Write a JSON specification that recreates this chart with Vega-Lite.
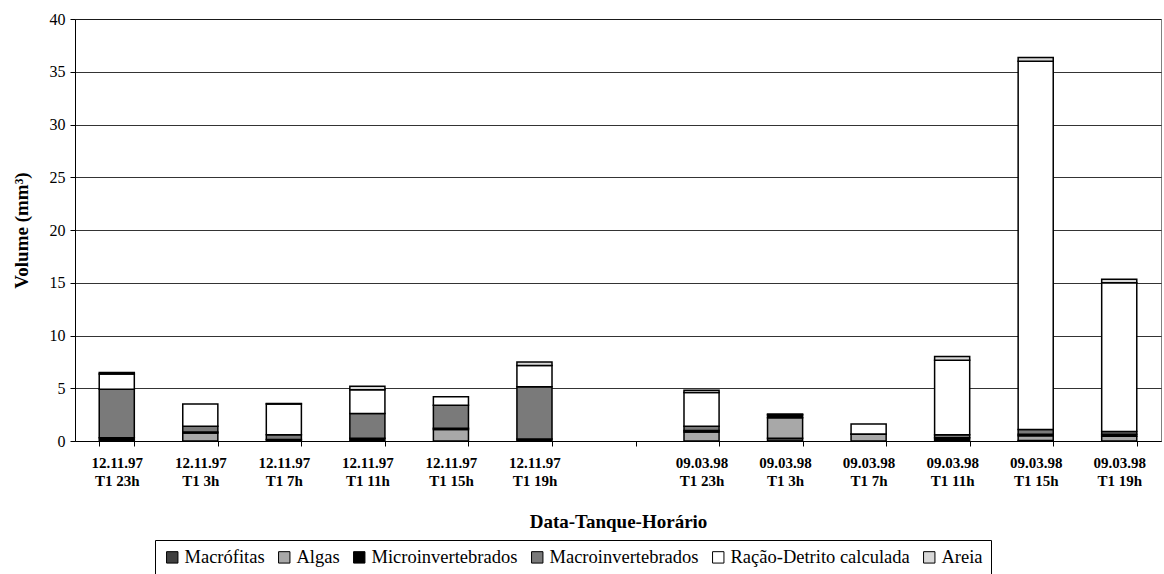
{
  "$schema": "https://vega.github.io/schema/vega-lite/v6.json",
  "width": 1086,
  "height": 422,
  "autosize": {"type": "none"},
  "padding": {"left": 75, "top": 19, "right": 3, "bottom": 133},
  "background": "white",
  "config": {
    "font": "Liberation Serif",
    "view": {"stroke": "#808080", "strokeWidth": 1}
  },
  "data": {
    "values": [
      {"c": "12.11.97|T1 23h", "Macrófitas": 0, "Algas": 0, "Microinvertebrados": 0.3, "Macroinvertebrados": 4.6, "Ração-Detrito calculada": 1.45, "Areia": 0.15},
      {"c": "12.11.97|T1 3h", "Macrófitas": 0, "Algas": 0.75, "Microinvertebrados": 0.1, "Macroinvertebrados": 0.55, "Ração-Detrito calculada": 2.1, "Areia": 0},
      {"c": "12.11.97|T1 7h", "Macrófitas": 0, "Algas": 0, "Microinvertebrados": 0.15, "Macroinvertebrados": 0.45, "Ração-Detrito calculada": 2.9, "Areia": 0.05},
      {"c": "12.11.97|T1 11h", "Macrófitas": 0, "Algas": 0, "Microinvertebrados": 0.25, "Macroinvertebrados": 2.35, "Ração-Detrito calculada": 2.25, "Areia": 0.35},
      {"c": "12.11.97|T1 15h", "Macrófitas": 0, "Algas": 1.1, "Microinvertebrados": 0.1, "Macroinvertebrados": 2.2, "Ração-Detrito calculada": 0.8, "Areia": 0},
      {"c": "12.11.97|T1 19h", "Macrófitas": 0, "Algas": 0, "Microinvertebrados": 0.2, "Macroinvertebrados": 4.95, "Ração-Detrito calculada": 2.0, "Areia": 0.35},
      {"c": "09.03.98|T1 23h", "Macrófitas": 0, "Algas": 0.85, "Microinvertebrados": 0.15, "Macroinvertebrados": 0.4, "Ração-Detrito calculada": 3.2, "Areia": 0.2},
      {"c": "09.03.98|T1 3h", "Macrófitas": 0.25, "Algas": 1.95, "Microinvertebrados": 0.3, "Macroinvertebrados": 0.05, "Ração-Detrito calculada": 0, "Areia": 0},
      {"c": "09.03.98|T1 7h", "Macrófitas": 0, "Algas": 0.65, "Microinvertebrados": 0.02, "Macroinvertebrados": 0, "Ração-Detrito calculada": 0.93, "Areia": 0},
      {"c": "09.03.98|T1 11h", "Macrófitas": 0, "Algas": 0, "Microinvertebrados": 0.3, "Macroinvertebrados": 0.3, "Ração-Detrito calculada": 7.05, "Areia": 0.35},
      {"c": "09.03.98|T1 15h", "Macrófitas": 0.05, "Algas": 0.45, "Microinvertebrados": 0.15, "Macroinvertebrados": 0.45, "Ração-Detrito calculada": 34.9, "Areia": 0.35},
      {"c": "09.03.98|T1 19h", "Macrófitas": 0, "Algas": 0.45, "Microinvertebrados": 0.2, "Macroinvertebrados": 0.25, "Ração-Detrito calculada": 14.1, "Areia": 0.33}
    ]
  },
  "transform": [
    {"fold": ["Macrófitas", "Algas", "Microinvertebrados", "Macroinvertebrados", "Ração-Detrito calculada", "Areia"], "as": ["tipo", "v"]},
    {"filter": "datum.v > 0"},
    {"calculate": "indexof(['Macrófitas','Algas','Microinvertebrados','Macroinvertebrados','Ração-Detrito calculada','Areia'], datum.tipo)", "as": "ord"}
  ],
  "mark": {"type": "bar", "stroke": "black", "strokeWidth": 1.5},
  "encoding": {
    "x": {
      "field": "c",
      "type": "nominal",
      "scale": {
        "domain": ["12.11.97|T1 23h", "12.11.97|T1 3h", "12.11.97|T1 7h", "12.11.97|T1 11h", "12.11.97|T1 15h", "12.11.97|T1 19h", " ", "09.03.98|T1 23h", "09.03.98|T1 3h", "09.03.98|T1 7h", "09.03.98|T1 11h", "09.03.98|T1 15h", "09.03.98|T1 19h"],
        "paddingInner": 0.58,
        "paddingOuter": 0.29
      },
      "axis": {
        "title": "Data-Tanque-Horário",
        "titleFont": "Liberation Serif",
        "titleFontSize": 19,
        "titleFontWeight": "bold",
        "titleColor": "black",
        "titlePadding": 24,
        "labelExpr": "split(datum.label, '|')",
        "labelAngle": 0,
        "labelFont": "Liberation Serif",
        "labelFontSize": 15,
        "labelFontWeight": "bold",
        "labelColor": "black",
        "labelPadding": 9,
        "labelLineHeight": 18,
        "tickBand": "extent",
        "tickColor": "black",
        "tickSize": 5,
        "domainColor": "black"
      }
    },
    "y": {
      "aggregate": "sum",
      "field": "v",
      "type": "quantitative",
      "stack": "zero",
      "scale": {"domain": [0, 40], "nice": false},
      "axis": {
        "title": "Volume (mm³)",
        "titleFont": "Liberation Serif",
        "titleFontSize": 19,
        "titleFontWeight": "bold",
        "titleColor": "black",
        "titlePadding": 18,
        "values": [0, 5, 10, 15, 20, 25, 30, 35, 40],
        "labelFont": "Liberation Serif",
        "labelFontSize": 16,
        "labelColor": "black",
        "labelPadding": 5,
        "tickColor": "black",
        "tickSize": 5,
        "domainColor": "black",
        "grid": true,
        "gridColor": "black",
        "gridWidth": 0.8
      }
    },
    "color": {
      "field": "tipo",
      "type": "nominal",
      "scale": {
        "domain": ["Macrófitas", "Algas", "Microinvertebrados", "Macroinvertebrados", "Ração-Detrito calculada", "Areia"],
        "range": ["#404040", "#a8a8a8", "#000000", "#7a7a7a", "#ffffff", "#d8d8d8"]
      },
      "legend": {
        "title": null,
        "orient": "none",
        "direction": "horizontal",
        "legendX": 80,
        "legendY": 521,
        "symbolType": "square",
        "symbolSize": 130,
        "symbolStrokeColor": "black",
        "symbolStrokeWidth": 1,
        "symbolOpacity": 1,
        "labelFont": "Liberation Serif",
        "labelFontSize": 18.5,
        "labelColor": "black",
        "labelLimit": 400,
        "labelOffset": 3,
        "columnPadding": 10,
        "strokeColor": "black",
        "padding": 8,
        "offset": 0
      }
    },
    "order": {"field": "ord", "type": "quantitative"}
  }
}
